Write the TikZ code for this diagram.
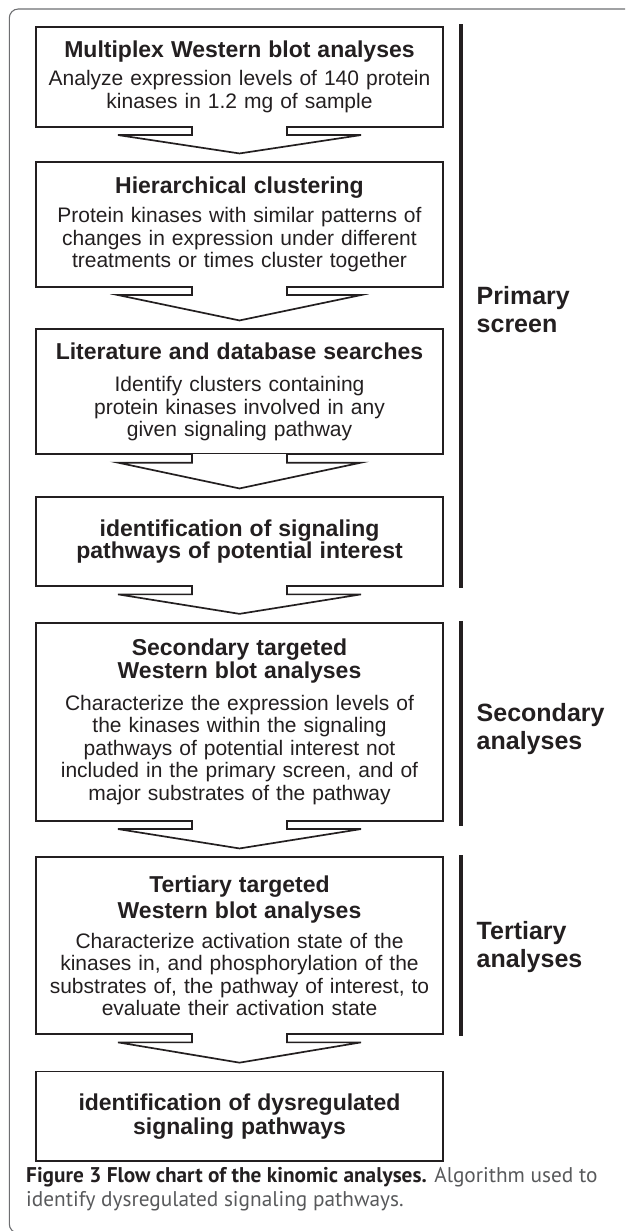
\documentclass[tikz,border=0pt]{standalone}
\usepackage{fontspec}
\setmainfont{Liberation Sans}
\newfontfamily\capfont{PT Sans}
\usetikzlibrary{calc}
\definecolor{ink}{HTML}{231F20}
\definecolor{capgray}{HTML}{58595B}
\definecolor{framegray}{HTML}{6D6E71}
\newcommand{\ttl}[1]{{\fontsize{23}{23}\selectfont\bfseries #1}}
\newcommand{\blockarrow}[2]{%
  \fill[white] let \p1=(#1.south) in (\x1-46.6pt,\y1+1.5pt) rectangle (\x1+46.6pt,\y1-7.5pt);
  \draw[arrowline] let \p1=(#1.south), \p2=(#2.north) in
    (\x1-47.5pt,\y1+0.85pt) -- (\x1-47.5pt,\y1-7.5pt) -- (\x1-121.5pt,\y1-7.5pt)
    -- (\x2,\y2+8pt) -- (\x1+121.5pt,\y1-7.5pt) -- (\x1+47.5pt,\y1-7.5pt) -- (\x1+47.5pt,\y1+0.85pt);}
\begin{document}
\begin{tikzpicture}[x=1pt,y=-1pt,
  box/.style={draw=ink, line width=1.7pt, minimum width=407pt, inner sep=0pt,
    text width=400pt, align=center, text=ink, font=\fontsize{21}{22.5}\selectfont},
  arrowline/.style={draw=ink, line width=1.7pt, line join=miter},
  groupbar/.style={draw=ink, line width=4.5pt},
  grouplabel/.style={anchor=north west, align=left, text=ink, inner sep=0pt,
    font=\bfseries\fontsize{25}{28}\selectfont},
  caption/.style={anchor=north west, align=left, inner sep=0pt, text=capgray,
    font=\capfont\fontsize{21.3}{23.5}\selectfont}]
\useasboundingbox (0,0) rectangle (625,1231);
\begin{scope}
\clip (0,0) rectangle (625,1231);
\draw[framegray, line width=1.1pt, rounded corners=9pt] (9.3,9) rectangle (660,1233);
\end{scope}

\node[box, minimum height=99.7pt] (b1) at (239.5,76.85)
  {\ttl{Multiplex Western blot analyses}\\[5.8pt]
   Analyze expression levels of 140 protein\\
   kinases in 1.2 mg of sample};
\node[box, minimum height=124.4pt] (b2) at (239.5,224.5)
  {\ttl{Hierarchical clustering}\\[6.5pt]
   Protein kinases with similar patterns of\\
   changes in expression under different\\
   treatments or times cluster together};
\node[box, minimum height=125pt] (b3) at (239.5,391.8)
  {\ttl{Literature and database searches}\\[10pt]
   Identify clusters containing\\
   protein kinases involved in any\\
   given signaling pathway};
\node[box, minimum height=88.7pt] (b4) at (239.5,541.65)
  {\ttl{identification of signaling}\\
   \ttl{pathways of potential interest}};
\node[box, minimum height=198pt] (b5) at (239.5,721.7)
  {\ttl{Secondary targeted}\\[0.5pt]
   \ttl{Western blot analyses}\\[9.5pt]
   Characterize the expression levels of\\
   the kinases within the signaling\\
   pathways of potential interest not\\
   included in the primary screen, and of\\
   major substrates of the pathway};
\node[box, minimum height=176.7pt] (b6) at (239.5,945.65)
  {\ttl{Tertiary targeted}\\[3.5pt]
   \ttl{Western blot analyses}\\[7.5pt]
   Characterize activation state of the\\
   kinases in, and phosphorylation of the\\
   substrates of, the pathway of interest, to\\
   evaluate their activation state};
\node[box, minimum height=89.2pt] (b7) at (239.5,1116.1)
  {\ttl{identification of dysregulated}\\[1.5pt]
   \ttl{signaling pathways}};

\blockarrow{b1}{b2}
\blockarrow{b2}{b3}
\blockarrow{b3}{b4}
\blockarrow{b4}{b5}
\blockarrow{b5}{b6}
\blockarrow{b6}{b7}

\draw[groupbar] ($(b1.north east)+(17,-2)$) -- ($(b4.south east)+(17,1)$);
\draw[groupbar] ($(b5.north east)+(17,-1)$) -- ($(b5.south east)+(17,4)$);
\draw[groupbar] ($(b6.north east)+(17,-1)$) -- ($(b6.south east)+(17,1)$);

\node[grouplabel] (lp) at (476.5,286) {Primary\\screen};
\node[grouplabel] (ls) at (476.5,703) {Secondary\\analyses};
\node[grouplabel] (lt) at (476.5,921.5) {Tertiary\\analyses};

\node[caption] (cap) at (26,1167.5)
  {{\color{ink}\bfseries Figure 3 Flow chart of the kinomic analyses.} Algorithm used to\\
   identify dysregulated signaling pathways.};
\end{tikzpicture}
\end{document}
